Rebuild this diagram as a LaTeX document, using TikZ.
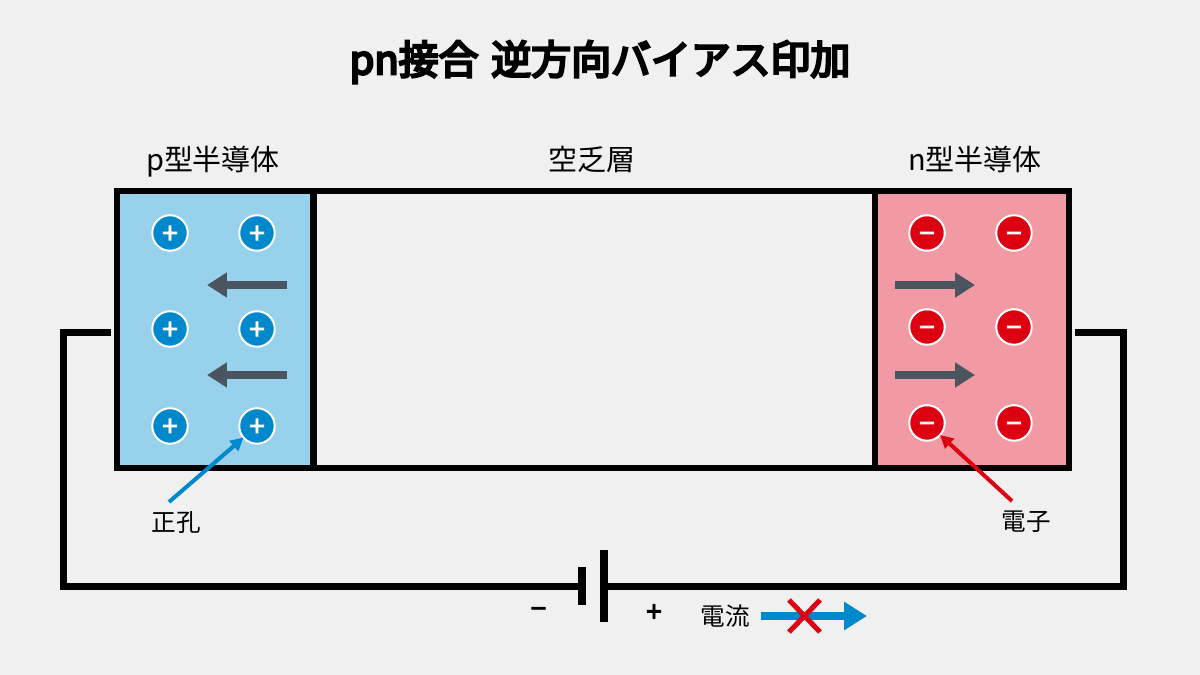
\documentclass[tikz,border=0pt]{standalone}
\usepackage{fontspec}
\setmainfont{Noto Sans CJK JP}
\newfontfamily\headfont[FakeBold=6]{Noto Sans CJK JP}
\newfontfamily\signfont[FakeBold=3]{Noto Sans CJK JP}
\usetikzlibrary{arrows.meta,positioning}
\definecolor{PageGray}{RGB}{240,240,240}
\definecolor{HoleBlue}{RGB}{0,136,204}
\definecolor{PaleBlue}{RGB}{151,209,236}
\definecolor{ElecRed}{RGB}{220,0,17}
\definecolor{PaleRed}{RGB}{242,154,163}
\definecolor{FlowGray}{RGB}{74,85,96}

\begin{document}
\begin{tikzpicture} [x=0.02cm, y=-0.02cm, on grid,
	   every node/.style={inner sep=0pt, outer sep=0pt, text=black},
	   region/.style = {rectangle, draw=black, line width=0.13cm, minimum height=5.54cm, fill=#1},
	   carrier/.style = {circle, minimum size=0.71cm, draw=white, line width=0.04cm, fill=#1,
	                     text=white, font=\signfont\fontsize{16pt}{16pt}\selectfont,
	                     text height=11.8pt, text depth=0pt},
	   plate/.style = {rectangle, fill=black, minimum width=0.16cm},
	   title/.style = {font=\headfont\fontsize{22.7pt}{26pt}\selectfont},
	   label/.style = {font=\fontsize{16.5pt}{20pt}\selectfont, text height=1em, text depth=0.2em},
	   small/.style = {font=\fontsize{14pt}{17pt}\selectfont, text height=1em, text depth=0.2em},
	   sign/.style = {font=\signfont\fontsize{16pt}{18pt}\selectfont},
	   wire/.style = {line width=0.14cm, draw=black, line join=miter},
	   flow/.style = {line width=0.16cm, draw=FlowGray, -{Triangle[length=0.4cm,width=0.48cm]}},
	   pointer/.style 2 args = {line width=0.08cm, draw=#1, -{Triangle[length=#2,width=#2]}}]
	\useasboundingbox (0,0) rectangle (1200,675);
	\fill[PageGray] (0,0) rectangle (1200,675);

	%% Title
	\node [title] (heading) at (600,62) {pn接合\hspace{0.1em} 逆方向バイアス印加};

	%% Regions
	\node [region=PaleBlue, minimum width=3.92cm] (p_region) at (215,329.5) {};
	\node [region=PageGray, minimum width=11.24cm, right=7.59cm of p_region] (depletion) {};
	\node [region=PaleRed, minimum width=3.88cm, right=7.55cm of depletion] (n_region) {};
	\node [label] (p_label) at (213,163) {p型半導体};
	\node [label] (dep_label) at (592,163) {空乏層};
	\node [label] (n_label) at (975,163) {n型半導体};

	%% Holes
	\node [carrier=HoleBlue] (hole_a) at (170,233) {+};
	\node [carrier=HoleBlue, right=1.74cm of hole_a] (hole_b) {+};
	\node [carrier=HoleBlue, below=1.92cm of hole_a] (hole_c) {+};
	\node [carrier=HoleBlue, right=1.74cm of hole_c] (hole_d) {+};
	\node [carrier=HoleBlue, below=1.94cm of hole_c] (hole_e) {+};
	\node [carrier=HoleBlue, right=1.74cm of hole_e] (hole_f) {+};

	%% Electrons
	\node [carrier=ElecRed] (elec_a) at (927,233) {−};
	\node [carrier=ElecRed, right=1.74cm of elec_a] (elec_b) {−};
	\node [carrier=ElecRed, below=1.88cm of elec_a] (elec_c) {−};
	\node [carrier=ElecRed, right=1.74cm of elec_c] (elec_d) {−};
	\node [carrier=ElecRed, below=1.92cm of elec_c] (elec_e) {−};
	\node [carrier=ElecRed, right=1.74cm of elec_e] (elec_f) {−};

	%% Carrier motion
	\coordinate (hole_s1) at (287,285);
	\coordinate (hole_t1) at (207,285);
	\coordinate (hole_s2) at (287,375);
	\coordinate (hole_t2) at (207,375);
	\coordinate (elec_s1) at (895,285);
	\coordinate (elec_t1) at (975,285);
	\coordinate (elec_s2) at (895,375);
	\coordinate (elec_t2) at (975,375);
	\draw[flow] (hole_s1) -- (hole_t1);
	\draw[flow] (hole_s2) -- (hole_t2);
	\draw[flow] (elec_s1) -- (elec_t1);
	\draw[flow] (elec_s2) -- (elec_t2);

	%% Callouts
	\node [small] (hole_label) at (176,524) {正孔};
	\node [small] (elec_label) at (1026,523.5) {電子};
	\coordinate (hole_tail) at (169,502);
	\coordinate (elec_tail) at (1012,501);
	\draw[pointer={HoleBlue}{0.26cm}] (hole_tail) -- (hole_f);
	\draw[pointer={ElecRed}{0.26cm}] (elec_tail) -- (elec_e);

	%% Battery
	\node [plate, minimum height=0.76cm] (plate_neg) at (582,586) {};
	\node [plate, minimum height=1.44cm] (plate_pos) at (604,586) {};
	\node [sign] (minus_sign) at (538.5,613) {−};
	\node [sign] (plus_sign) at (654,613) {+};

	%% Circuit
	\coordinate (wire_l) at (111,333);
	\coordinate (corner_l) at (63,333);
	\coordinate (wire_r) at (1075,333);
	\coordinate (corner_r) at (1123,333);
	\draw[wire] (wire_l) -- (corner_l) |- (plate_neg.west);
	\draw[wire] (wire_r) -- (corner_r) |- (plate_pos.east);

	%% Current
	\node [small] (cur_label) at (725,618) {電流};
	\coordinate (cur_s) at (761,616);
	\coordinate (cur_t) at (867,616);
	\draw[line width=0.16cm, draw=HoleBlue, -{Triangle[length=0.46cm,width=0.54cm]}] (cur_s) -- (cur_t);
	\coordinate (cross_a) at (789,600);
	\coordinate (cross_b) at (820,632);
	\coordinate (cross_c) at (820,600);
	\coordinate (cross_d) at (789,632);
	\draw[line width=0.1cm, draw=ElecRed] (cross_a) -- (cross_b);
	\draw[line width=0.1cm, draw=ElecRed] (cross_c) -- (cross_d);
\end{tikzpicture}
\end{document}
